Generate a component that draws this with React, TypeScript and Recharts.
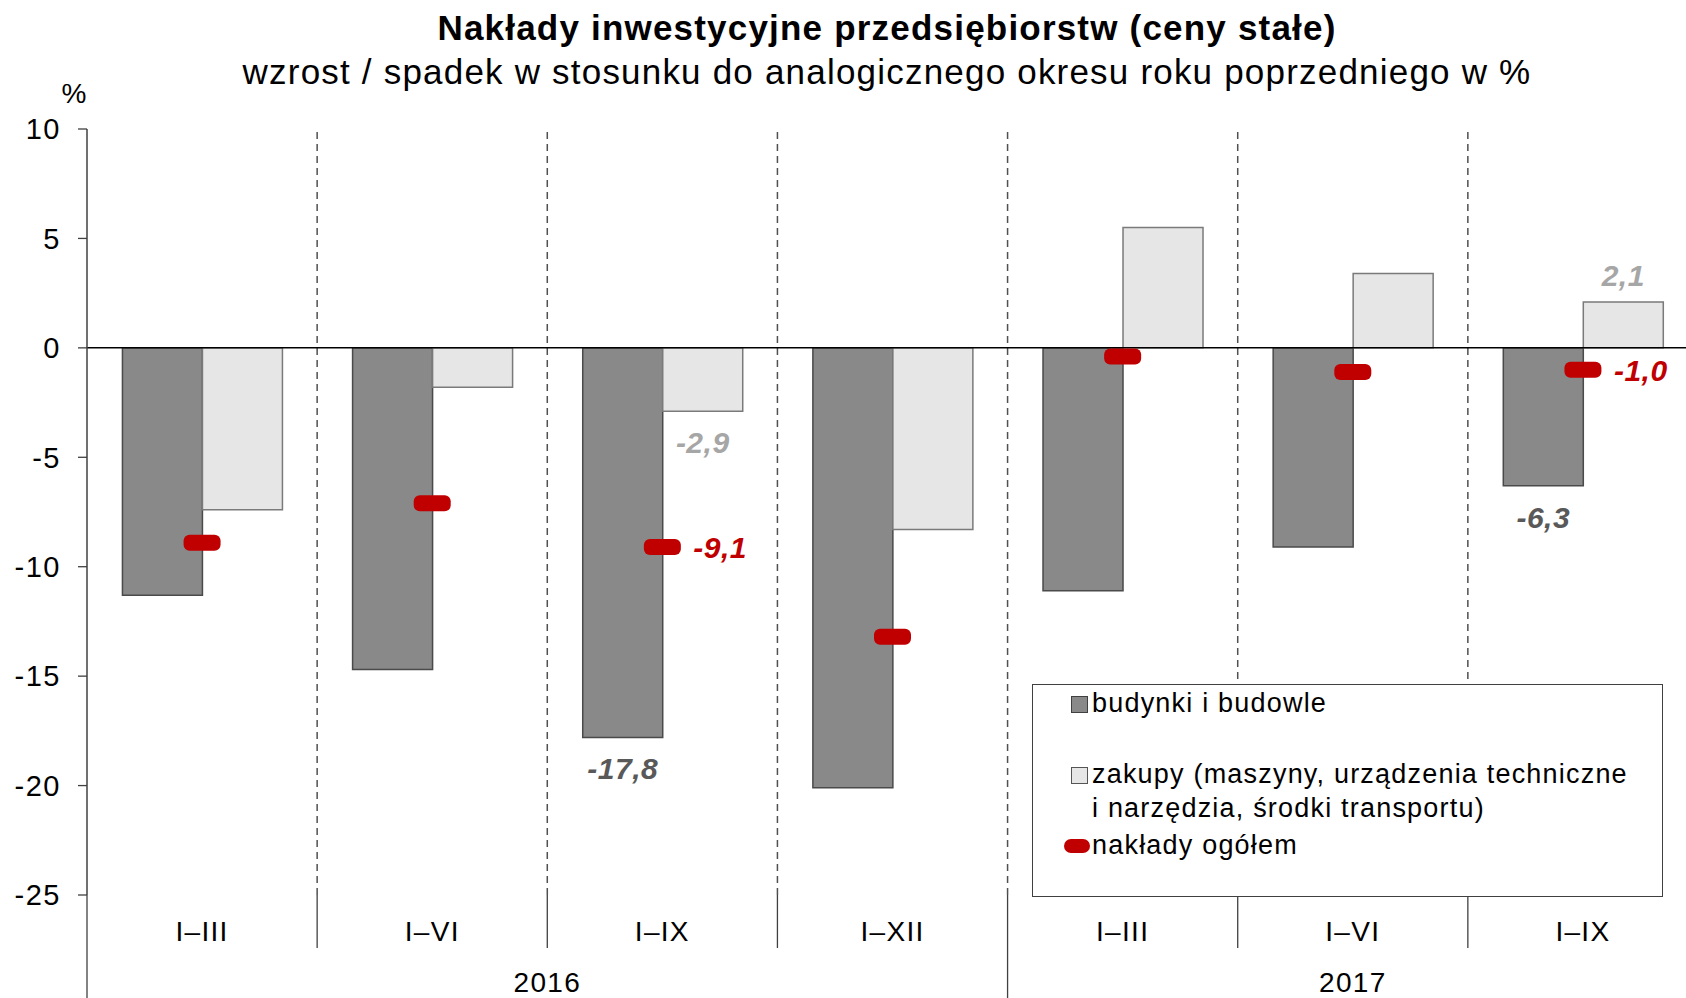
import React from 'react';
import { ComposedChart, Bar, Line, XAxis, YAxis, ReferenceLine, Legend, LabelList } from 'recharts';

const FONT = '"Liberation Sans", Arial, sans-serif';

const categories = ['I–III', 'I–VI', 'I–IX', 'I–XII', 'I–III', 'I–VI', 'I–IX'];
const buildings = [-11.3, -14.7, -17.8, -20.1, -11.1, -9.1, -6.3];
const purchases = [-7.4, -1.8, -2.9, -8.3, 5.5, 3.4, 2.1];
const total = [-8.9, -7.1, -9.1, -13.2, -0.4, -1.1, -1.0];
const years = [
  { label: '2016', start: 0, end: 4 },
  { label: '2017', start: 4, end: 7 },
];
const yTicks = [-25, -20, -15, -10, -5, 0, 5, 10];
const labelledIdx = [2, 6];

const seriesNames = {
  buildings: 'budynki i budowle',
  purchases: ['zakupy (maszyny, urządzenia techniczne', 'i narzędzia, środki transportu)'],
  total: 'nakłady ogółem',
};

const COL_DARK = '#898989';
const COL_DARK_STROKE = '#4a4a4a';
const COL_LIGHT = '#e6e6e6';
const COL_LIGHT_STROKE = '#7a7a7a';
const COL_RED = '#c00000';

const data = categories.map((c, i) => ({
  i,
  cat: c,
  buildings: buildings[i],
  purchases: purchases[i],
  total: total[i],
}));

const CatTick = (props: any) => {
  const { x, y, payload } = props;
  const i = payload.value as number;
  const half = payload.offset as number;
  const left = x - half;
  const yr = years.find((yy) => yy.start === i);
  return (
    <g>
      <line x1={left} x2={left} y1={y} y2={y + (yr ? 110 : 53)} stroke="#404040" strokeWidth={1.3} />
      <text x={x} y={y + 46} textAnchor="middle" fontSize={28} fontFamily={FONT} fill="#000" letterSpacing={1.3}>
        {categories[i]}
      </text>
      {yr ? (
        <text
          x={left + (yr.end - yr.start) * half}
          y={y + 97}
          textAnchor="middle"
          fontSize={28}
          fontFamily={FONT}
          fill="#000"
          letterSpacing={1.3}
        >
          {yr.label}
        </text>
      ) : null}
    </g>
  );
};

const fmt = (v: number) => v.toFixed(1).replace('.', ',');

const makeBarLabel = (color: string) => (props: any) => {
  const { x, y, width, height, value, index } = props;
  if (!labelledIdx.includes(index)) return null;
  const top = Math.min(y, y + height);
  const bottom = Math.max(y, y + height);
  const cx = x + width / 2;
  const ty = value < 0 ? bottom + 42 : top - 16;
  return (
    <text x={cx} y={ty} textAnchor="middle" fontSize={30} fontWeight="bold" fontStyle="italic" fontFamily={FONT} fill={color} letterSpacing={0.5}>
      {fmt(value)}
    </text>
  );
};

const TotalLabel = (props: any) => {
  const { x, y, value, index } = props;
  if (!labelledIdx.includes(index)) return null;
  return (
    <text x={x + 31} y={y + 11} textAnchor="start" fontSize={30} fontWeight="bold" fontStyle="italic" fontFamily={FONT} fill={COL_RED} letterSpacing={0.5}>
      {fmt(value)}
    </text>
  );
};

const RedDot = (props: any) => {
  const { cx, cy } = props;
  if (cx == null || cy == null) return null;
  return <rect x={cx - 18.5} y={cy - 8} width={37} height={16} rx={6} ry={6} fill={COL_RED} />;
};

const textStyle: React.CSSProperties = {
  position: 'absolute',
  fontFamily: FONT,
  fontSize: 27,
  lineHeight: '34px',
  letterSpacing: 1.2,
  color: '#000',
  whiteSpace: 'nowrap',
};

const LegendBox = () => (
  <div
    style={{
      position: 'relative',
      width: 631,
      height: 213,
      border: '1.5px solid #404040',
      boxSizing: 'border-box',
      background: '#fff',
    }}
  >
    <div style={{ position: 'absolute', left: 38, top: 11, width: 15, height: 15, background: COL_DARK, border: '1px solid #404040' }} />
    <div style={{ ...textStyle, left: 59, top: 1 }}>{seriesNames.buildings}</div>
    <div style={{ position: 'absolute', left: 38, top: 82, width: 15, height: 15, background: COL_LIGHT, border: '1px solid #555' }} />
    <div style={{ ...textStyle, left: 59, top: 72 }}>
      {seriesNames.purchases[0]}
      <br />
      {seriesNames.purchases[1]}
    </div>
    <div style={{ position: 'absolute', left: 31, top: 154, width: 26, height: 14, borderRadius: 7, background: COL_RED }} />
    <div style={{ ...textStyle, left: 59, top: 143 }}>{seriesNames.total}</div>
  </div>
);

export default function App() {
  return (
    <div style={{ position: 'absolute', left: 0, top: 0, width: 1686, height: 998, overflow: 'hidden', background: '#fff' }}>
      <div
        style={{
          position: 'absolute', left: 0, top: 8, width: 1774, textAlign: 'center',
          fontFamily: FONT, fontSize: 35, fontWeight: 'bold', lineHeight: '40px', letterSpacing: 1.2, color: '#000',
        }}
      >
        Nakłady inwestycyjne przedsiębiorstw (ceny stałe)
      </div>
      <div
        style={{
          position: 'absolute', left: 0, top: 52, width: 1774, textAlign: 'center',
          fontFamily: FONT, fontSize: 35, lineHeight: '40px', letterSpacing: 1.2, color: '#000',
        }}
      >
        wzrost / spadek w stosunku do analogicznego okresu roku poprzedniego w %
      </div>
      <div
        style={{
          position: 'absolute', left: 54, top: 77, width: 40, textAlign: 'center',
          fontFamily: FONT, fontSize: 28, lineHeight: '34px', color: '#000',
        }}
      >
        %
      </div>
      <div style={{ position: 'absolute', left: 0, top: 0 }}>
        <ComposedChart
          width={1698}
          height={998}
          data={data}
          margin={{ top: 129, right: 0, left: 0, bottom: 0 }}
          barCategoryGap="15.4%"
          barGap={0}
        >
          <XAxis
            xAxisId="cat"
            dataKey="i"
            type="category"
            height={103}
            interval={0}
            tickSize={0}
            tickMargin={0}
            tickLine={false}
            axisLine={false}
            tick={<CatTick />}
          />
          <YAxis
            domain={[-25, 10]}
            ticks={yTicks}
            interval={0}
            allowDataOverflow
            width={87}
            tickSize={9}
            tickMargin={17}
            axisLine={{ stroke: '#404040', strokeWidth: 1.5 }}
            tickLine={{ stroke: '#404040', strokeWidth: 1.3 }}
            tick={{ fill: '#000', fontSize: 29, fontFamily: FONT, letterSpacing: 1.5 }}
          />
          {data.slice(1).map((d) => (
            <ReferenceLine
              key={d.i}
              xAxisId="cat"
              x={d.i}
              position="start"
              stroke="#505050"
              strokeWidth={1.5}
              strokeDasharray="7 5"
            />
          ))}
          <Bar xAxisId="cat" dataKey="buildings" name={seriesNames.buildings} fill={COL_DARK} stroke={COL_DARK_STROKE} strokeWidth={1.5} isAnimationActive={false}>
            <LabelList dataKey="buildings" content={makeBarLabel('#595959')} />
          </Bar>
          <Bar xAxisId="cat" dataKey="purchases" name={seriesNames.purchases.join(' ')} fill={COL_LIGHT} stroke={COL_LIGHT_STROKE} strokeWidth={1.5} isAnimationActive={false}>
            <LabelList dataKey="purchases" content={makeBarLabel('#a6a6a6')} />
          </Bar>
          <ReferenceLine xAxisId="cat" y={0} stroke="#000" strokeWidth={1.5} />
          <Line
            xAxisId="cat"
            dataKey="total"
            name={seriesNames.total}
            stroke="none"
            dot={<RedDot />}
            activeDot={false}
            isAnimationActive={false}
          >
            <LabelList dataKey="total" content={<TotalLabel />} />
          </Line>
          <Legend
            layout="horizontal"
            verticalAlign="middle"
            align="center"
            wrapperStyle={{ left: 1032, top: 684, width: 631, height: 213 }}
            content={() => <LegendBox />}
          />
        </ComposedChart>
      </div>
    </div>
  );
}
